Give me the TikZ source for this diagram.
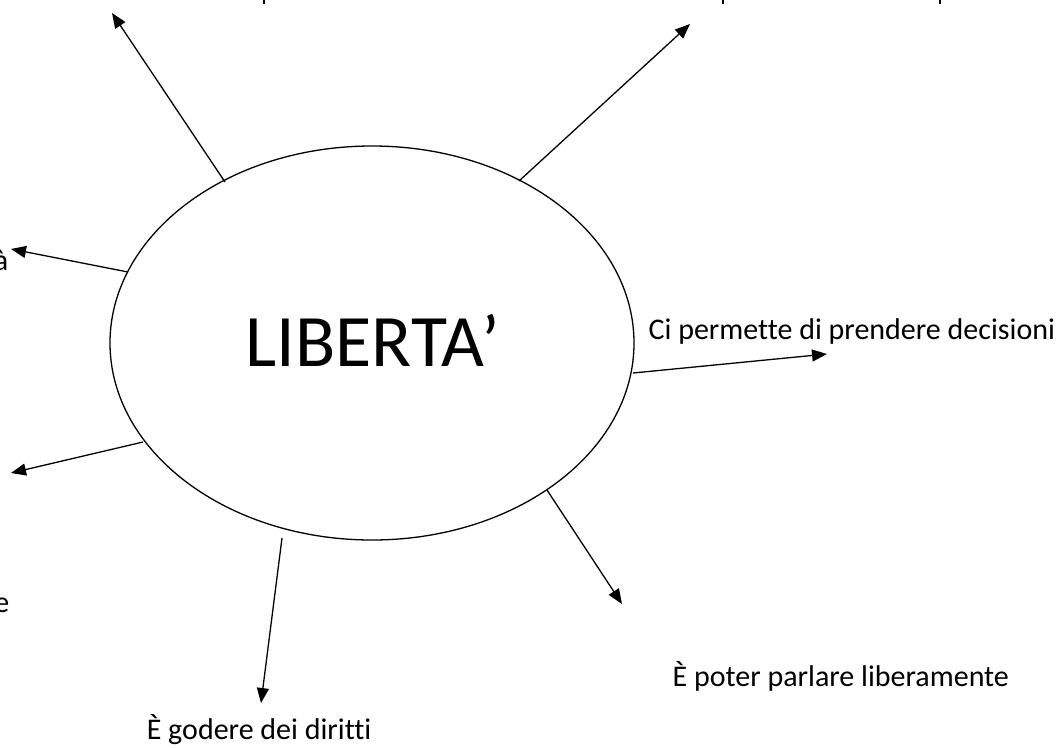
\documentclass[tikz,border=0pt]{standalone}
\usepackage{fontspec}
\setmainfont[Ligatures={NoCommon}]{Carlito}
\usetikzlibrary{arrows.meta,shapes.geometric}
\begin{document}
\begin{tikzpicture}[x=1pt,y=-1pt,line width=1.3pt,
  arr/.style={-{Triangle[length=15pt,width=12pt]}},
  lbl/.style={font=\fontsize{30}{36}\selectfont,inner sep=0pt}]
\useasboundingbox (0,0) rectangle (1059,747);
\clip (0,0) rectangle (1059,747);
\node[ellipse,draw,minimum width=524pt,minimum height=394pt,inner sep=0pt] (c) at (372,343) {};
\node[font=\fontsize{74}{80}\selectfont,anchor=base,inner sep=0pt] (t) at (373,366) {LIBERTA’};
% connector ends
\coordinate (s1) at (225,182); \coordinate (e1) at (112,13);
\coordinate (s2) at (519,181); \coordinate (e2) at (690,24);
\coordinate (s3) at (128,272); \coordinate (e3) at (11,249);
\coordinate (s4) at (143,442); \coordinate (e4) at (11,473);
\coordinate (s5) at (633,373); \coordinate (e5) at (827,354);
\coordinate (s6) at (547,490); \coordinate (e6) at (622,604);
\coordinate (s7) at (282,538); \coordinate (e7) at (261,703);
\foreach \i in {1,...,7} {\draw[arr] (s\i) -- (e\i);}
% labels
\node[lbl,anchor=base west] (l5) at (648,339) {Ci permette di prendere decisioni};
\node[lbl,anchor=base west] (l6) at (672,686) {È poter parlare liberamente};
\node[lbl,anchor=base east] (l7) at (372,739) {È godere dei diritti};
\node[lbl,anchor=base east] (l3) at (9,270) {à};
\node[lbl,anchor=base east] (l4) at (10,612) {e};
% descenders of cut-off text at the top edge
\draw[line width=1.2pt] (264,0) -- (264,4);
\draw[line width=1.2pt] (723,0) -- (723,4);
\draw[line width=1.2pt] (940,0) -- (940,4);
\end{tikzpicture}
\end{document}
